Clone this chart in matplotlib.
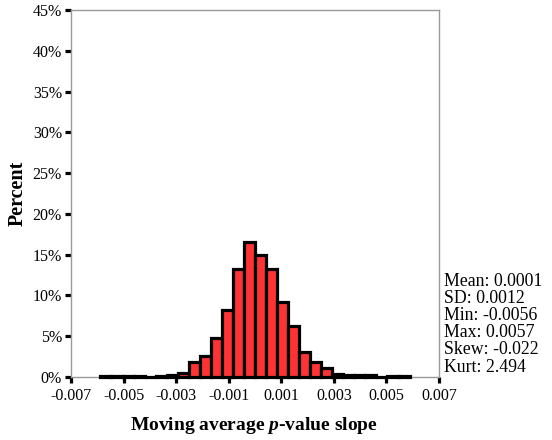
import numpy as np
import matplotlib
matplotlib.use("Agg")
import matplotlib.pyplot as plt

# Histogram of moving-average p-value slopes (percent of cases per bin)
bin_start = -0.00588
bin_width = 0.00042
percent = [0.1, 0.1, 0.1, 0.1, 0.0, 0.1, 0.3, 0.5,
           1.8, 2.6, 4.8, 8.2, 13.2, 16.5, 14.9, 13.2,
           9.2, 6.3, 3.1, 1.9, 1.1, 0.4, 0.3, 0.3,
           0.2, 0.0, 0.1, 0.1]

x_ticks = [-0.007, -0.005, -0.003, -0.001, 0.001, 0.003, 0.005, 0.007]
x_tick_labels = ["-0.007", "-0.005", "-0.003", "-0.001",
                 "0.001", "0.003", "0.005", "0.007"]
y_ticks = [0, 5, 10, 15, 20, 25, 30, 35, 40, 45]
y_tick_labels = ["0%", "5%", "10%", "15%", "20%", "25%", "30%", "35%", "40%", "45%"]

stats = ["Mean: 0.0001", "SD: 0.0012", "Min: -0.0056",
         "Max: 0.0057", "Skew: -0.022", "Kurt: 2.494"]

plt.rcParams["font.family"] = ["Liberation Serif", "DejaVu Serif"]
plt.rcParams["mathtext.fontset"] = "custom"
plt.rcParams["mathtext.it"] = "Liberation Serif:italic:bold"
plt.rcParams["mathtext.rm"] = "Liberation Serif:bold"

fig = plt.figure(figsize=(5.52, 4.40), dpi=100)
ax = fig.add_axes([71 / 552, 63 / 440, 368 / 552, 367 / 440])

lefts = bin_start + bin_width * np.arange(len(percent))
ax.bar(lefts, percent, width=bin_width, align="edge",
       color="#ff3333", edgecolor="black", linewidth=2.3, clip_on=False, zorder=3)

ax.set_xlim(-0.007, 0.007)
ax.set_ylim(0, 45)
ax.set_xticks(x_ticks)
ax.set_xticklabels(x_tick_labels, fontsize=11.5)
ax.set_yticks(y_ticks)
ax.set_yticklabels(y_tick_labels, fontsize=11.5)

for s in ax.spines.values():
    s.set_color("#9a9a9a")
    s.set_linewidth(1.0)

ax.tick_params(axis="both", direction="out", length=4, width=2.3,
               color="black", pad=2.5)
ax.tick_params(axis="x", pad=4)

ax.set_xlabel("Moving average $p$-value slope", fontsize=14,
              fontweight="bold", va="center", ha="center")
ax.xaxis.set_label_coords(0.497, -0.131)
ax.set_ylabel("Percent", fontsize=14.5, fontweight="bold", va="center", ha="center")
ax.yaxis.set_label_coords(-0.146, 0.5)

for i, line in enumerate(stats):
    fig.text(444 / 552, 1 - (281 + 17.2 * i) / 440, line, fontsize=12.8,
             ha="left", va="center")

fig.savefig("out.png", dpi=100)
